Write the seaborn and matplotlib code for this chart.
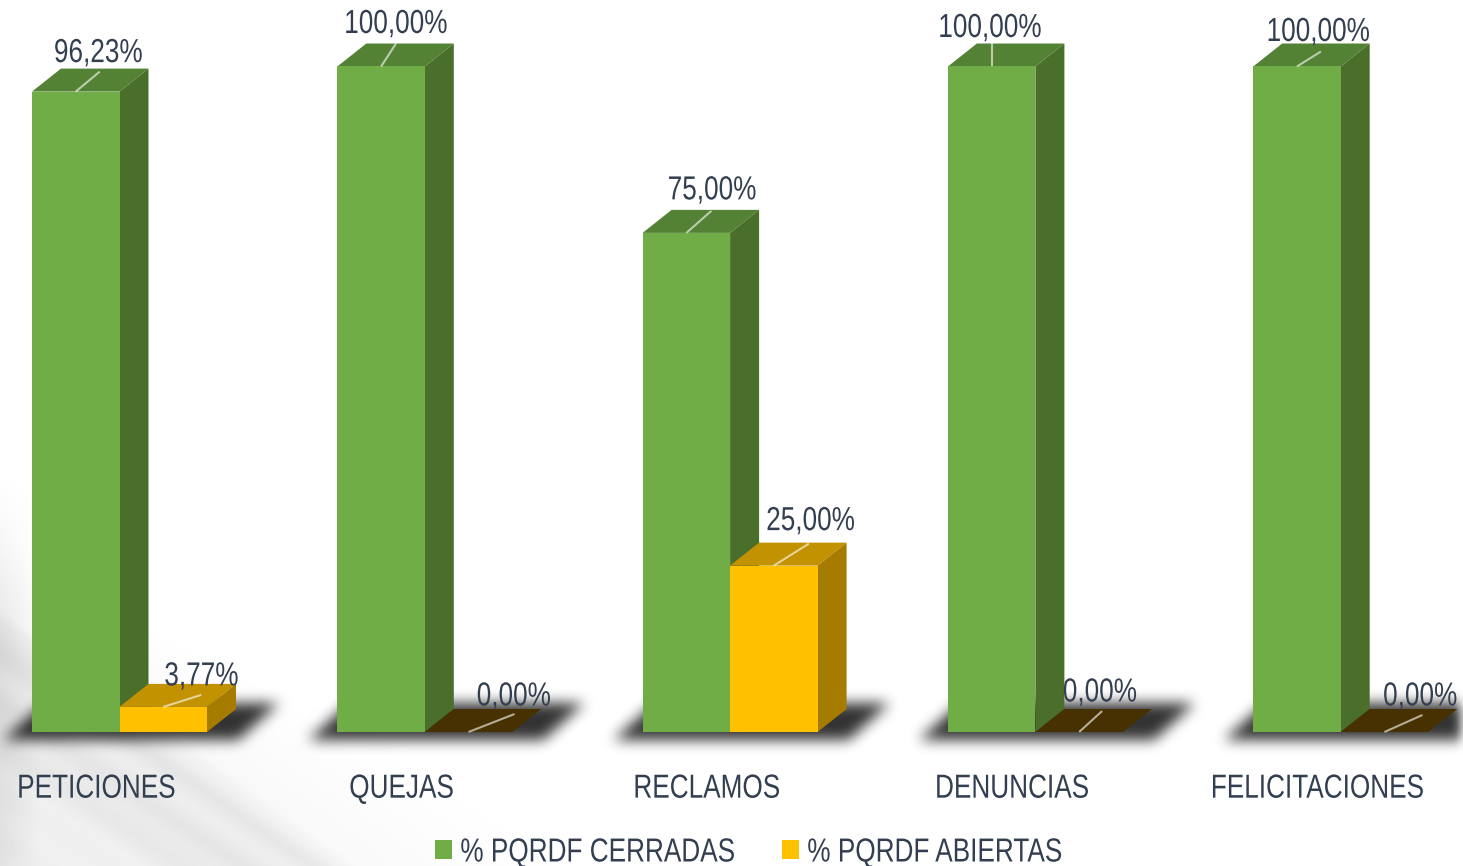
import numpy as np
import pandas as pd
import matplotlib
matplotlib.use("Agg")
import matplotlib.pyplot as plt
from matplotlib.patches import Polygon
from matplotlib.patheffects import AbstractPathEffect
from matplotlib.transforms import Affine2D, ScaledTranslation
import seaborn as sns

categories = ["PETICIONES", "QUEJAS", "RECLAMOS", "DENUNCIAS", "FELICITACIONES"]
closed_values = [96.23, 100.0, 75.0, 100.0, 100.0]
open_values = [3.77, 0.0, 25.0, 0.0, 0.0]
series_names = ["% PQRDF CERRADAS", "% PQRDF ABIERTAS"]

W, H = 1463, 866
BASE_PX = 732
PX_PER_UNIT = 6.655
STEP_PX = 305.3
BAR_PX = 87.5
DEPTH_X, DEPTH_Y = 29, 23
TEXT = "#333f50"
NARROW = 0.785
FONT_PT = 24
FONT = ["Liberation Sans", "DejaVu Sans"]

sns.set_theme(style="white")
plt.rcParams["font.family"] = FONT


class Condense(AbstractPathEffect):
    """Squeeze a text horizontally around its left, centre or right edge."""

    def __init__(self, factor, anchor="center"):
        super().__init__()
        self.factor = factor
        self.anchor = anchor

    def draw_path(self, renderer, gc, tpath, affine, rgbFace=None):
        xs = affine.transform(tpath.vertices)[:, 0]
        x0 = {"left": xs.min(), "right": xs.max(), "center": (xs.min() + xs.max()) / 2}[self.anchor]
        squeezed = affine + Affine2D().translate(-x0, 0).scale(self.factor, 1).translate(x0, 0)
        renderer.draw_path(gc, tpath, squeezed, rgbFace)


fig = plt.figure(figsize=(W / 100, H / 100), dpi=100, facecolor="white")

# ---------- background texture + soft floor shadows ----------
yy, xx = np.mgrid[0:H, 0:W].astype(float)
u = yy - 625 - xx * 0.72
v = yy - 600 - xx * 0.66
streak = 0.72 + 0.13 * np.sin(v / 7.3) + 0.15 * np.sin(v / 19.0 + 1.0)
band_main = np.clip(u / 34.0 + 0.5, 0, 1) * np.clip(1 - u / 300.0, 0.2, 1)
band_faint = np.clip((yy - 540 - xx * 0.5) / 120.0, 0, 1) * np.clip(1 - xx / 620.0, 0, 1) ** 0.6
band_edge = np.clip(1 - xx / 40.0, 0, 1) * np.clip((yy - 470) / 130.0, 0, 1)
grey = 0.105 * band_main * streak + 0.035 * band_faint + 0.06 * band_edge
bg = 1 - grey


def blur(a, r, n=3):
    k = np.ones(2 * r + 1) / (2 * r + 1)
    for _ in range(n):
        a = np.apply_along_axis(lambda c: np.convolve(c, k, mode="same"), 0, a)
        a = np.apply_along_axis(lambda c: np.convolve(c, k, mode="same"), 1, a)
    return a


shadow = np.zeros((H, W))
band = (yy >= 703) & (yy <= 739)
for i in range(len(categories)):
    left = 32 + i * STEP_PX
    right = left + 2 * BAR_PX
    frac = (739 - yy) / 36.0
    shadow[band & (xx >= left - 29 + frac * 40) & (xx <= right + 31 + frac * 40)] = 1.0
shadow[660:790] = blur(shadow[660:790], 6)
bg = bg * (1 - 0.8 * shadow)

ax_bg = fig.add_axes([0, 0, 1, 1], zorder=0)
ax_bg.imshow(bg, cmap="gray", vmin=0, vmax=1, aspect="auto", interpolation="nearest")
ax_bg.axis("off")

# ---------- chart ----------
ax = fig.add_axes([0, 1 - BASE_PX / H, 1, BASE_PX / H], zorder=1)
ax.patch.set_visible(False)

df = pd.DataFrame({
    "categoria": categories * 2,
    "valor": closed_values + open_values,
    "serie": [series_names[0]] * len(categories) + [series_names[1]] * len(categories),
})
front = {series_names[0]: "#70ad47", series_names[1]: "#ffc000"}
sns.barplot(data=df, x="categoria", y="valor", hue="serie", hue_order=series_names,
            order=categories, palette=front, saturation=1, width=2 * BAR_PX / STEP_PX,
            ax=ax, linewidth=0, legend=True)

ax.set_xlim(-119.5 / STEP_PX, (W - 119.5) / STEP_PX)
ax.set_ylim(0, BASE_PX / PX_PER_UNIT)
ax.set_xlabel("")
ax.set_ylabel("")
ax.set_yticks([])
for s in ax.spines.values():
    s.set_visible(False)

ux = 1 / STEP_PX
uy = 1 / PX_PER_UNIT
dx, dy = DEPTH_X * ux, DEPTH_Y * uy

top_colors = ["#548235", "#c29200"]
side_colors = ["#4a6f2b", "#a67c00"]
ZERO_TOP = "#473100"

# label offsets from the top-centre of each bar's front face, in pixels
label_off = [[(23, 38), (15, 42), (26, 42), (-1.5, 38), (21.5, 34)],
             [(38.5, 30), (45.5, 35), (37, 44), (21, 39), (36, 35)]]
leader_end = [[(24, 20), (15, 23), (25, 22), (0, 23), (24, 15)],
              [(38, 12), (46, 18), (35, 22), (23, 21), (38, 17)]]

renderer = fig.canvas.get_renderer()

for s_idx, cont in enumerate(ax.containers):
    for c_idx, bar in enumerate(cont.patches):
        x0, w, h = bar.get_x(), bar.get_width(), bar.get_height()
        x1 = x0 + w
        bar.set_zorder(3 + s_idx * 3)
        top_col = top_colors[s_idx] if h > 0 else ZERO_TOP
        ax.add_patch(Polygon([(x0, h), (x1, h), (x1 + dx, h + dy), (x0 + dx, h + dy)],
                             closed=True, fc=top_col, ec="none", zorder=2 + s_idx * 3))
        if h > 0:
            ax.add_patch(Polygon([(x1, 0), (x1 + dx, dy), (x1 + dx, h + dy), (x1, h)],
                                 closed=True, fc=side_colors[s_idx], ec="none", zorder=2 + s_idx * 3))
        xc = x0 + w / 2
        ex, ey = leader_end[s_idx][c_idx]
        ax.plot([xc, xc + ex * ux], [h, h + ey * uy], color="white", alpha=0.6, lw=1.5,
                solid_capstyle="butt", zorder=20, clip_on=False)
        lx, ly = label_off[s_idx][c_idx]
        t = ax.text(xc + lx * ux, h + ly * uy, f"{h:.2f}%".replace(".", ","), ha="center", va="center",
                    fontsize=FONT_PT, color=TEXT, zorder=21, clip_on=False)
        # right-anchored so that the squeezed text keeps its place
        full = t.get_window_extent(renderer).width
        t.set_ha("right")
        t.set_x(xc + (lx + full * NARROW / 2) * ux)
        t.set_path_effects([Condense(NARROW, "right")])

ax.tick_params(axis="x", length=0, pad=30, labelsize=FONT_PT, labelcolor=TEXT)
fig.canvas.draw()
for i, lab in enumerate(ax.get_xticklabels()):
    # the label's centre stays 23 px left of the category centre
    if i == 0:
        full = lab.get_window_extent(renderer).width
        shift_px = -23 - full * NARROW / 2
        lab.set_ha("left")
        anchor = "left"
    else:
        shift_px = -23
        anchor = "center"
    lab.set_transform(lab.get_transform() + ScaledTranslation(shift_px / 100, 0, fig.dpi_scale_trans))
    lab.set_path_effects([Condense(NARROW, anchor)])

handles, labels = ax.get_legend_handles_labels()
leg = ax.legend(handles, labels, loc="center left", bbox_to_anchor=(435 / W, (H - 853) / H),
                bbox_transform=fig.transFigure, ncol=2, frameon=False, fontsize=FONT_PT,
                labelcolor=TEXT, handlelength=0.51, handleheight=0.51, handletextpad=0.25,
                columnspacing=-0.87, borderpad=0, borderaxespad=0)
for lt in leg.get_texts():
    lt.set_path_effects([Condense(NARROW, "left")])

fig.savefig("out.png", dpi=100)
